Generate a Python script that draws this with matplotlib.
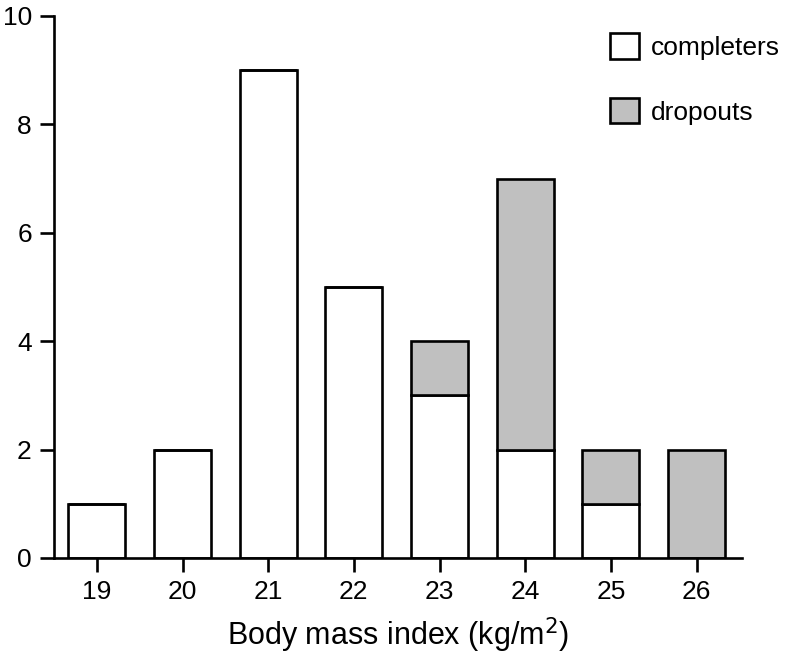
import matplotlib.pyplot as plt
from matplotlib.patches import Patch

plt.rcParams['font.family'] = ['Liberation Sans', 'DejaVu Sans']

bmi = [19, 20, 21, 22, 23, 24, 25, 26]
completers = [1, 2, 9, 5, 3, 2, 1, 0]
dropouts = [0, 0, 0, 0, 1, 5, 1, 2]
y_ticks = [0, 2, 4, 6, 8, 10]

lw = 1.9
grey = '#c0c0c0'

fig = plt.figure(figsize=(7.86, 6.65), dpi=100)
ax = fig.add_axes([0.0687, 0.161, 0.8753, 0.815])

ax.bar(bmi, completers, width=0.665, color='white', edgecolor='black', linewidth=lw, zorder=2)
ax.bar(bmi, dropouts, width=0.665, bottom=completers, color=grey, edgecolor='black', linewidth=lw, zorder=2)

ax.set_xlim(18.5, 26.53)
ax.set_ylim(0, 10)
ax.set_xticks(bmi)
ax.set_yticks(y_ticks)
ax.spines['top'].set_visible(False)
ax.spines['right'].set_visible(False)
for s in ['left', 'bottom']:
    ax.spines[s].set_linewidth(lw)
ax.tick_params(direction='out', length=10, width=lw, labelsize=19, pad=6)
ax.set_xlabel('Body mass index (kg/m$^2$)', fontsize=22, labelpad=8)

handles = [Patch(facecolor='white', edgecolor='black', linewidth=lw, label='completers'),
           Patch(facecolor=grey, edgecolor='black', linewidth=lw, label='dropouts')]
fig.legend(handles=handles, loc='upper left', bbox_to_anchor=(0.776, 0.95), frameon=False,
           fontsize=19, handlelength=1.1, handleheight=1.1, handletextpad=0.45,
           labelspacing=1.45, borderpad=0, borderaxespad=0)

fig.savefig('out.png', dpi=100)
